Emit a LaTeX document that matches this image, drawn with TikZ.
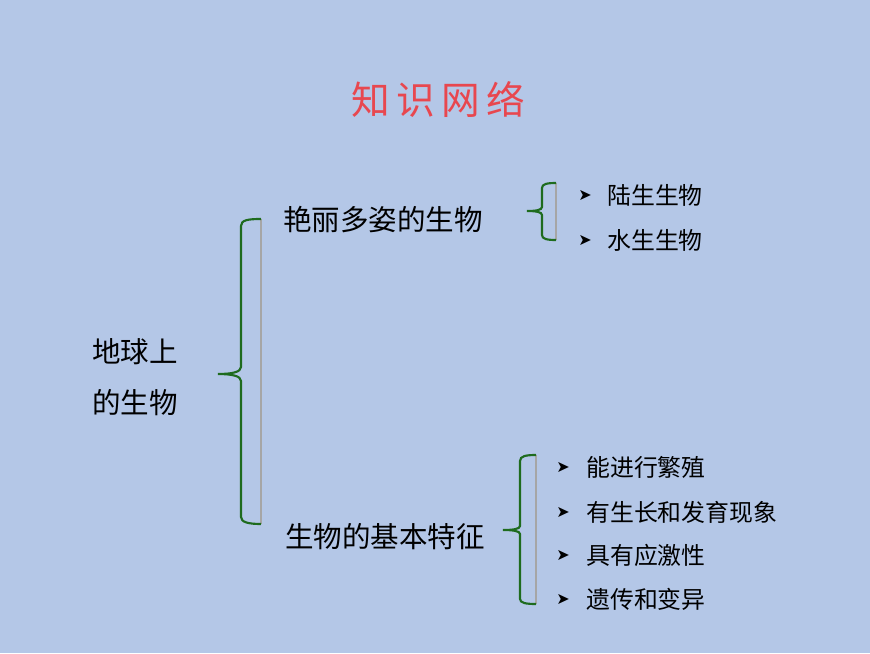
\documentclass[tikz,border=0pt]{standalone}
\usepackage{fontspec}
\newfontfamily\cjk{Noto Sans CJK SC}
\newfontfamily\dv{DejaVu Sans}
\definecolor{bg}{HTML}{B4C7E7}
\definecolor{br}{HTML}{1E6B1E}
\definecolor{ttl}{HTML}{E8474F}
\begin{document}
\begin{tikzpicture}[x=0.75pt,y=-0.75pt,
  big/.style={font=\cjk\fontsize{21.4}{24}\selectfont,inner sep=0pt},
  item/.style={font=\cjk\fontsize{17.9}{20}\selectfont,inner sep=0pt,anchor=west},
  bul/.style={font=\dv\fontsize{12}{14}\selectfont,inner sep=0pt},
  brace/.style={draw=br,line width=1.6pt},
  shade/.style={draw=gray!70,line width=1.5pt}]
\fill[bg] (0,0) rectangle (870,653);
\useasboundingbox (0,0) rectangle (870,653);
\node[font=\cjk\fontsize{29}{34}\selectfont,text=ttl,inner sep=0pt] (title) at (438,100) {知\,识\,网\,络};
\node[big] (a1) at (135,352) {地球上};
\node[big] (a2) at (135,403) {的生物};
\node[big,anchor=west] (b1) at (283,220) {艳丽多姿的生物};
\node[big,anchor=west] (b2) at (285,537) {生物的基本特征};
% brace 1
\draw[shade] (261,219) -- (261,524);
\draw[brace] (261,219) .. controls (248,219) and (241,220) .. (241,226) -- (241,367) .. controls (241,372) and (232,374) .. (218,374) .. controls (232,374) and (241,376) .. (241,381) -- (241,517) .. controls (241,522) and (248,524) .. (261,524);
% brace 2
\draw[shade] (556,183) -- (556,240);
\draw[brace] (556,183) .. controls (547,183) and (542,184) .. (542,188) -- (542,207) .. controls (542,210) and (536,211) .. (527,211) .. controls (536,211) and (542,212) .. (542,215) -- (542,235) .. controls (542,239) and (547,240) .. (556,240);
% brace 3
\draw[shade] (536,455) -- (536,604);
\draw[brace] (536,455) .. controls (526,455) and (520,456) .. (520,461) -- (520,526) .. controls (520,529) and (513,530) .. (503,530) .. controls (513,530) and (520,531) .. (520,534) -- (520,599) .. controls (520,603) and (526,604) .. (536,604);
\node[bul] (p1) at (585,195) {➤};
\node[item] (c1) at (607,195) {陆生生物};
\node[bul] (p2) at (585,240) {➤};
\node[item] (c2) at (607,240) {水生生物};
\node[bul] (q1) at (563,467) {➤};
\node[item] (d1) at (586,467) {能进行繁殖};
\node[bul] (q2) at (563,512) {➤};
\node[item] (d2) at (586,512) {有生长和发育现象};
\node[bul] (q3) at (563,555) {➤};
\node[item] (d3) at (586,555) {具有应激性};
\node[bul] (q4) at (563,599) {➤};
\node[item] (d4) at (586,599) {遗传和变异};
\end{tikzpicture}
\end{document}
